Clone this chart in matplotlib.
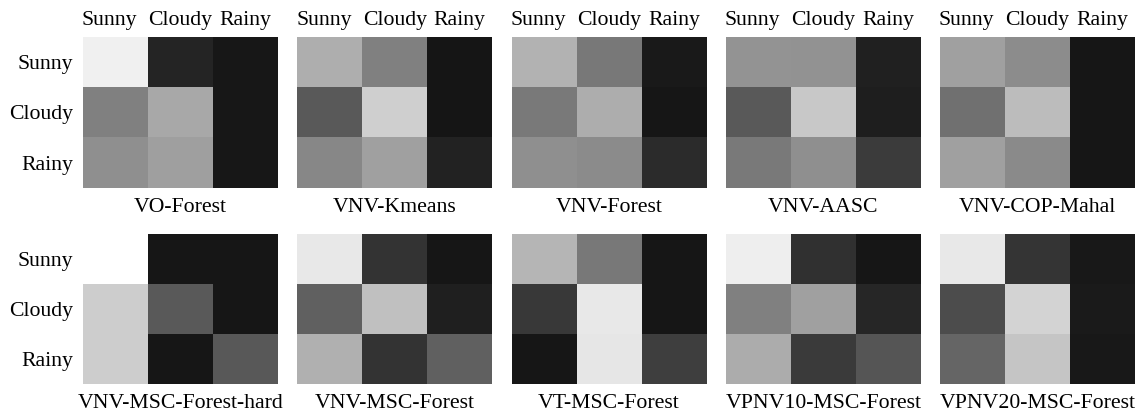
import numpy as np
import matplotlib
matplotlib.use("Agg")
import matplotlib.pyplot as plt
import matplotlib.transforms as mtransforms

plt.rcParams['font.family'] = ['Liberation Serif', 'DejaVu Serif']

classes = ["Sunny", "Cloudy", "Rainy"]

methods_top = ["VO-Forest", "VNV-Kmeans", "VNV-Forest", "VNV-AASC", "VNV-COP-Mahal"]
methods_bottom = ["VNV-MSC-Forest-hard", "VNV-MSC-Forest", "VT-MSC-Forest",
                  "VPNV10-MSC-Forest", "VPNV20-MSC-Forest"]

# Cell intensities (0 = black, 255 = white), rows = true class, cols = predicted
vo_forest = [[240, 37, 23], [128, 168, 23], [143, 159, 23]]
vnv_kmeans = [[174, 128, 21], [90, 207, 21], [135, 160, 34]]
vnv_forest = [[178, 120, 25], [122, 173, 22], [143, 139, 43]]
vnv_aasc = [[148, 146, 33], [90, 200, 30], [122, 143, 59]]
vnv_cop_mahal = [[160, 140, 22], [112, 188, 22], [160, 138, 22]]

vnv_msc_forest_hard = [[255, 22, 22], [205, 90, 22], [205, 22, 88]]
vnv_msc_forest = [[232, 51, 22], [96, 192, 31], [176, 51, 96]]
vt_msc_forest = [[181, 120, 22], [56, 232, 22], [22, 230, 62]]
vpnv10_msc_forest = [[238, 48, 22], [128, 160, 38], [172, 58, 85]]
vpnv20_msc_forest = [[232, 52, 24], [76, 212, 26], [101, 197, 24]]

top_data = [vo_forest, vnv_kmeans, vnv_forest, vnv_aasc, vnv_cop_mahal]
bottom_data = [vnv_msc_forest_hard, vnv_msc_forest, vt_msc_forest,
               vpnv10_msc_forest, vpnv20_msc_forest]

W, H = 1144, 417
fig = plt.figure(figsize=(W / 100, H / 100), dpi=100)

fs = 15.7
left0, step, pw = 83, 214.25, 195
rows = [(37, 151, top_data, methods_top, True),
        (234, 150, bottom_data, methods_bottom, False)]

# nudge the first column header a little to the left
nudge = mtransforms.ScaledTranslation(-6 / 100, 0, fig.dpi_scale_trans)

for top_px, ph, datasets, names, show_top in rows:
    for i, (mat, name) in enumerate(zip(datasets, names)):
        x0 = left0 + step * i
        ax = fig.add_axes([x0 / W, 1 - (top_px + ph) / H, pw / W, ph / H])
        ax.imshow(np.array(mat, dtype=float), cmap="gray", vmin=0, vmax=255,
                  aspect="auto", interpolation="nearest")
        for s in ax.spines.values():
            s.set_visible(False)
        ax.tick_params(length=0)
        ax.xaxis.tick_top()
        ax.set_xticks(range(3))
        if show_top:
            ax.set_xticklabels(classes, fontsize=fs)
            ax.tick_params(axis="x", pad=5)
            first = ax.get_xticklabels()[0]
            first.set_transform(first.get_transform() + nudge)
        else:
            ax.set_xticklabels([])
        ax.set_yticks(range(3))
        if i == 0:
            ax.set_yticklabels(classes, fontsize=fs)
            ax.tick_params(axis="y", pad=7)
        else:
            ax.set_yticklabels([])
        ax.xaxis.set_label_position("bottom")
        ax.set_xlabel(name, fontsize=fs, labelpad=7)

fig.savefig("out.png", dpi=100)
